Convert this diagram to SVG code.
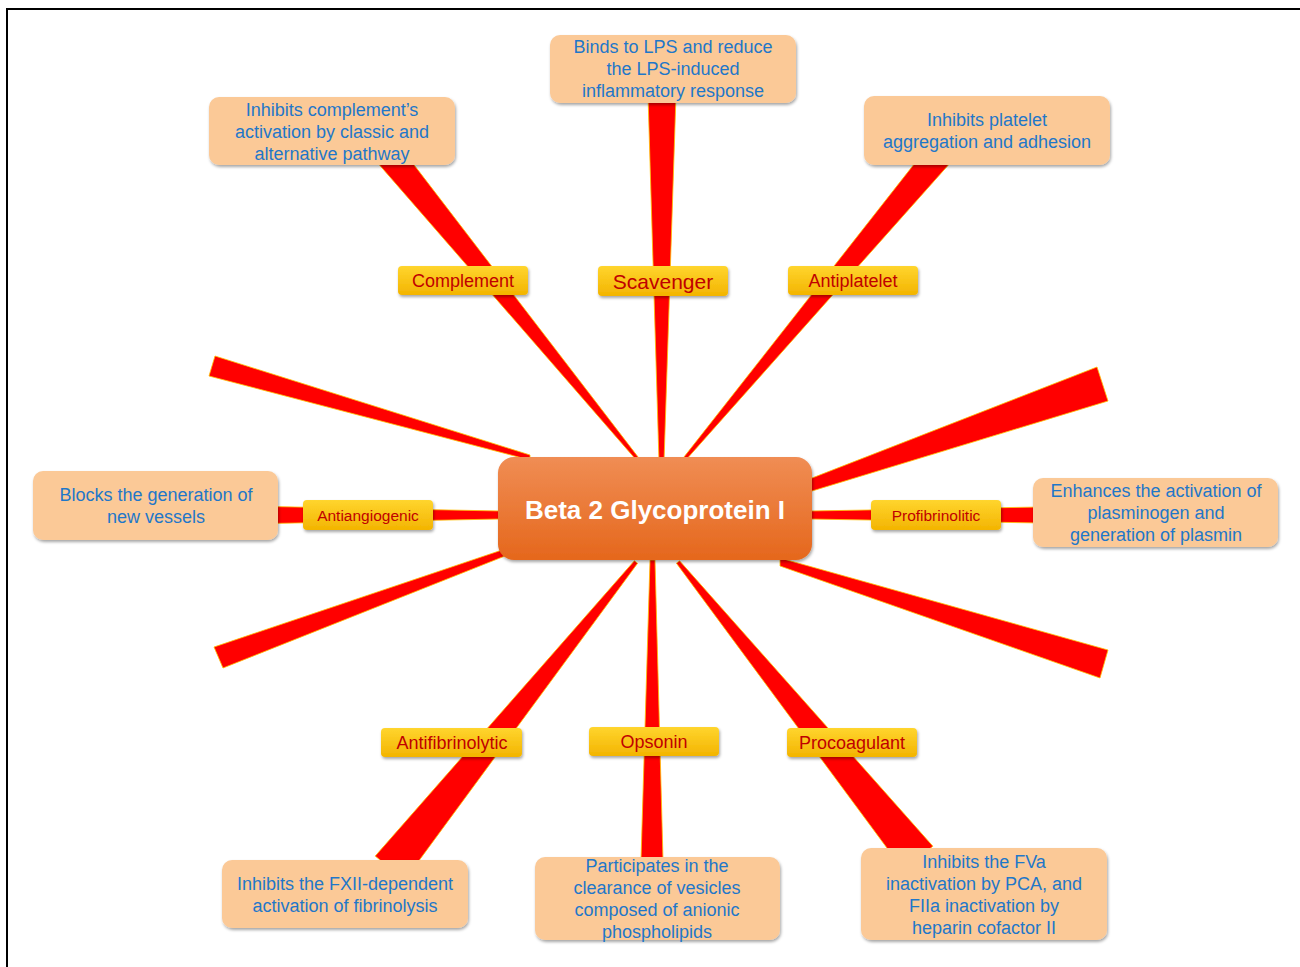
<svg xmlns="http://www.w3.org/2000/svg" width="1300" height="967" viewBox="0 0 1300 967">
<defs>
<linearGradient id="gCenter" x1="0" y1="0" x2="0" y2="1"><stop offset="0" stop-color="#F08D54"/><stop offset="1" stop-color="#E5671C"/></linearGradient>
<linearGradient id="gLabel" x1="0" y1="0" x2="0" y2="1"><stop offset="0" stop-color="#FFD52E"/><stop offset="1" stop-color="#F3B400"/></linearGradient>
<filter id="sh" x="-10%" y="-10%" width="130%" height="140%"><feDropShadow dx="1" dy="2" stdDeviation="1.5" flood-color="#000" flood-opacity="0.35"/></filter>
</defs>
<style>
.spoke{fill:#FF0000;stroke:#FFC000;stroke-width:0.8;stroke-linejoin:round}
.box{fill:#FBC997;filter:url(#sh)}
.lab{fill:url(#gLabel);filter:url(#sh)}
.bt{font-family:"Liberation Sans",Arial,sans-serif;font-size:18px;fill:#1F77C9;text-anchor:middle}
.lt{font-family:"Liberation Sans",Arial,sans-serif;font-size:18px;fill:#C00000;text-anchor:middle}
.ct{font-family:"Liberation Sans",Arial,sans-serif;font-size:26px;font-weight:bold;fill:#FFFFFF;text-anchor:middle}
</style>
<rect width="1300" height="967" fill="#FFFFFF"/>
<path d="M7 967 V9 H1300" fill="none" stroke="#000" stroke-width="2"/>
<g id="connectors">
<polygon class="spoke" points="641.2,461.1 638.8,462.9 374.2,158.9 395.8,141.1"/>
<polygon class="spoke" points="659,462 664,462 676,95 648,95"/>
<polygon class="spoke" points="683.2,463 680.8,461 932.2,141.1 953.8,158.9"/>
<polygon class="spoke" points="530,455 530,460 209,376 215,356"/>
<polygon class="spoke" points="790,486.6 790,497.7 1108,401 1097,367"/>
<polygon class="spoke" points="500,511 500,519 270,523.5 270,506.5"/>
<polygon class="spoke" points="810,511 810,519 1040,523 1040,507"/>
<polygon class="spoke" points="505,549 505,556 223,668 214,647"/>
<polygon class="spoke" points="780,558 780,566 1100,678 1108,650"/>
<polygon class="spoke" points="634.4,560.7 637.6,563.3 404.8,879.9 375.2,856.1"/>
<polygon class="spoke" points="650,560 655,560 663,860 641,860"/>
<polygon class="spoke" points="676.4,563.2 679.6,560.8 932.9,846.2 903.1,869.8"/>
</g>
<g id="center">
<rect x="498" y="457" width="314" height="103" rx="16" fill="url(#gCenter)" filter="url(#sh)"/>
<text class="ct" x="655" y="519">Beta 2 Glycoprotein I</text>
</g>
<g id="lbl-complement"><rect class="lab" x="398" y="266" width="130" height="29" rx="4"/><text class="lt" x="463" y="287">Complement</text></g>
<g id="lbl-scavenger"><rect class="lab" x="598" y="266" width="130" height="30" rx="4"/><text class="lt" x="663" y="289" style="font-size:21px">Scavenger</text></g>
<g id="lbl-antiplatelet"><rect class="lab" x="788" y="266" width="130" height="29" rx="4"/><text class="lt" x="853" y="287">Antiplatelet</text></g>
<g id="lbl-antiangiogenic"><rect class="lab" x="303" y="500" width="130" height="30" rx="4"/><text class="lt" x="368" y="520.5" style="font-size:15.5px">Antiangiogenic</text></g>
<g id="lbl-profibrinolitic"><rect class="lab" x="871" y="500" width="130" height="30" rx="4"/><text class="lt" x="936" y="520.5" style="font-size:15.5px">Profibrinolitic</text></g>
<g id="lbl-antifibrinolytic"><rect class="lab" x="381" y="728" width="141" height="29" rx="4"/><text class="lt" x="452" y="749">Antifibrinolytic</text></g>
<g id="lbl-opsonin"><rect class="lab" x="589" y="727" width="130" height="29" rx="4"/><text class="lt" x="654" y="748">Opsonin</text></g>
<g id="lbl-procoagulant"><rect class="lab" x="787" y="728" width="130" height="29" rx="4"/><text class="lt" x="852" y="749">Procoagulant</text></g>
<g id="box-complement"><rect class="box" x="209" y="97" width="246" height="68" rx="10"/><text class="bt" x="332"><tspan x="332" y="116">Inhibits complement’s</tspan><tspan x="332" y="138">activation by classic and</tspan><tspan x="332" y="160">alternative pathway</tspan></text></g>
<g id="box-scavenger"><rect class="box" x="550" y="35" width="246" height="68" rx="10"/><text class="bt"><tspan x="673" y="53">Binds to LPS and reduce</tspan><tspan x="673" y="75">the LPS-induced</tspan><tspan x="673" y="97">inflammatory response</tspan></text></g>
<g id="box-antiplatelet"><rect class="box" x="864" y="96" width="246" height="69" rx="10"/><text class="bt"><tspan x="987" y="126">Inhibits platelet</tspan><tspan x="987" y="148">aggregation and adhesion</tspan></text></g>
<g id="box-antiangiogenic"><rect class="box" x="33" y="471" width="245" height="69" rx="10"/><text class="bt"><tspan x="156" y="501">Blocks the generation of</tspan><tspan x="156" y="523">new vessels</tspan></text></g>
<g id="box-profibrinolitic"><rect class="box" x="1033" y="478" width="245" height="69" rx="10"/><text class="bt"><tspan x="1156" y="497">Enhances the activation of</tspan><tspan x="1156" y="519">plasminogen and</tspan><tspan x="1156" y="541">generation of plasmin</tspan></text></g>
<g id="box-antifibrinolytic"><rect class="box" x="222" y="860" width="246" height="68" rx="10"/><text class="bt"><tspan x="345" y="890">Inhibits the FXII-dependent</tspan><tspan x="345" y="912">activation of fibrinolysis</tspan></text></g>
<g id="box-opsonin"><rect class="box" x="535" y="857" width="245" height="83" rx="10"/><text class="bt"><tspan x="657" y="872">Participates in the</tspan><tspan x="657" y="894">clearance of vesicles</tspan><tspan x="657" y="916">composed of anionic</tspan><tspan x="657" y="938">phospholipids</tspan></text></g>
<g id="box-procoagulant"><rect class="box" x="861" y="848" width="246" height="92" rx="10"/><text class="bt"><tspan x="984" y="868">Inhibits the FVa</tspan><tspan x="984" y="890">inactivation by PCA, and</tspan><tspan x="984" y="912">FIIa inactivation by</tspan><tspan x="984" y="934">heparin cofactor II</tspan></text></g>
</svg>
